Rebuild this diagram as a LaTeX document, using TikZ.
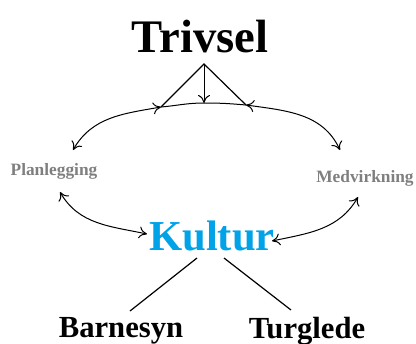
\documentclass[tikz,border=0pt]{standalone}
\usepackage{fontspec}
\setmainfont{Liberation Serif}
\usetikzlibrary{arrows.meta}
\definecolor{kulturblaa}{RGB}{0,162,232}
\definecolor{graatekst}{RGB}{127,127,127}
\tikzset{
	pil/.style={line width=0.75pt, -{To[length=6pt,width=9pt]}},
	dobbelpil/.style={line width=0.75pt, {To[length=6pt,width=9pt]}-{To[length=6pt,width=9pt]}},
	strek/.style={line width=0.9pt},
	hovedord/.style={font=\bfseries, anchor=base, inner sep=0pt},
	sideord/.style={font=\bfseries\fontsize{13pt}{15pt}\selectfont, text=graatekst, anchor=base, inner sep=0pt}
}
\begin{document}
\begin{tikzpicture}[x=0.75pt, y=-0.75pt]
		\useasboundingbox (0,0) rectangle (416,343);
		
		%Ordene
		\node (trivsel) at (200,52) [hovedord, font=\bfseries\fontsize{35pt}{40pt}\selectfont]{Trivsel};
		
		\node (planlegging) at (54,175) [sideord]{Planlegging};
		
		\node (medvirkning) at (365,182) [sideord]{Medvirkning};
		
		\node (kultur) at (212,250) [hovedord, text=kulturblaa, font=\bfseries\fontsize{32pt}{36pt}\selectfont]{Kultur};
		
		\node (barnesyn) at (121,337) [hovedord, font=\bfseries\fontsize{23pt}{27pt}\selectfont]{Barnesyn};
		
		\node (turglede) at (307,338) [hovedord, font=\bfseries\fontsize{23pt}{27pt}\selectfont]{Turglede};
		
		%Punktene paa buen
		\coordinate (topp) at (204,64);
		\coordinate (venstreFot) at (161,107);
		\coordinate (hoyreFot) at (246,105);
		\coordinate (midtFot) at (204,103);
		\coordinate (planOppe) at (73,150);
		\coordinate (planNede) at (60,192);
		\coordinate (medOppe) at (340,150);
		\coordinate (medNede) at (358,197);
		\coordinate (kulturVenstre) at (147,234);
		\coordinate (kulturHoyre) at (272,241);
		\coordinate (kulturUnderV) at (197,258);
		\coordinate (kulturUnderH) at (224,258);
		\coordinate (barnesynTopp) at (130,311);
		\coordinate (turgledeTopp) at (291,310);
		
		%Trekanten under Trivsel
		\draw[strek] (venstreFot) -- (topp) -- (hoyreFot);
		\draw[pil] (topp) -- (midtFot);
		
		%Buene
		\draw[line width=0.75pt] (venstreFot) to[out=5, in=180] (midtFot) to[out=0, in=175] (hoyreFot);
		
		\draw[dobbelpil] (venstreFot) to[out=190, in=60] (planOppe);
		
		\draw[dobbelpil] (hoyreFot) to[out=-8, in=115] (medOppe);
		
		\draw[dobbelpil] (planNede) to[out=-60, in=168] (kulturVenstre);
		
		\draw[dobbelpil] (medNede) to[out=-120, in=12] (kulturHoyre);
		
		%Strekene fra Kultur
		\draw[strek] (kulturUnderV) -- (barnesynTopp);
		
		\draw[strek] (kulturUnderH) -- (turgledeTopp);
		
\end{tikzpicture}
\end{document}
